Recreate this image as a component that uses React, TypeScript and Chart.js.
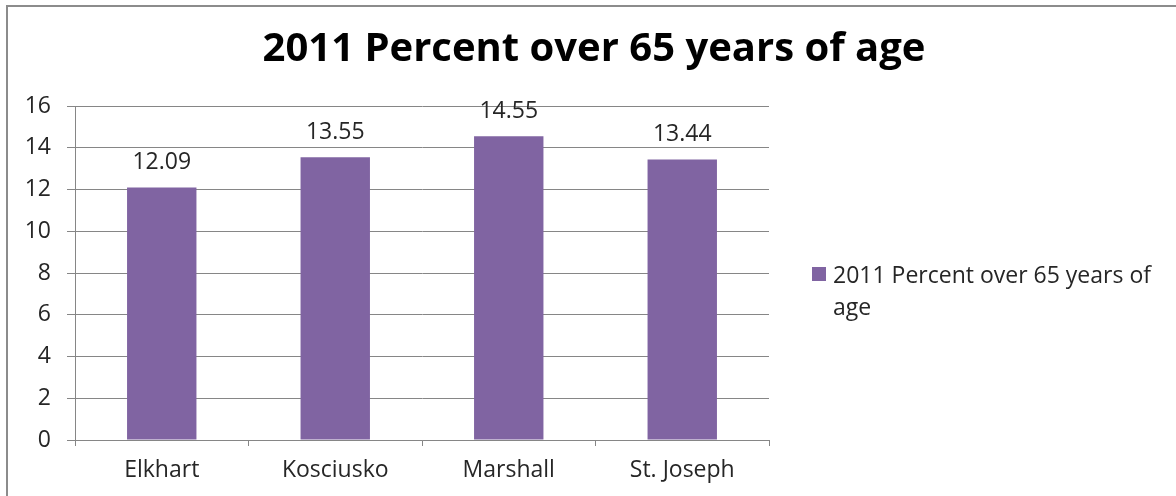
import React, { useEffect, useRef } from "react";
import { Chart, registerables } from "chart.js";

Chart.register(...registerables);

const categories = ["Elkhart", "Kosciusko", "Marshall", "St. Joseph"];
const seriesName = "2011 Percent over 65 years of age";
const values = [12.09, 13.55, 14.55, 13.44];
const valueLabels = ["12.09", "13.55", "14.55", "13.44"];
const legendLines = ["2011 Percent over 65 years of", "age"];

const FONT = "'Open Sans', Lato, sans-serif";
const BAR = "#8064A2";
const GRID = "#868686";
const TEXT = "#262626";
const FS = 23;

const valueLabelPlugin = {
  id: "valueLabels",
  afterDatasetsDraw(chart: any) {
    const ctx = chart.ctx;
    const meta = chart.getDatasetMeta(0);
    ctx.save();
    ctx.font = `${FS}px ${FONT}`;
    ctx.fillStyle = TEXT;
    ctx.textAlign = "center";
    ctx.textBaseline = "middle";
    meta.data.forEach((el: any, i: number) => {
      ctx.fillText(valueLabels[i], el.x, el.y - 25);
    });
    ctx.restore();
  },
};

const titlePlugin = {
  id: "fullTitle",
  afterDraw(chart: any) {
    const ctx = chart.ctx;
    ctx.save();
    ctx.font = `bold 40px ${FONT}`;
    ctx.fillStyle = "#000";
    ctx.textAlign = "center";
    ctx.textBaseline = "middle";
    ctx.fillText(seriesName, 594, 50);
    ctx.restore();
  },
};

export default function App() {
  const ref = useRef<HTMLCanvasElement | null>(null);
  useEffect(() => {
    document.body.style.margin = "0";
    const chart = new Chart(ref.current!, {
      type: "bar",
      data: {
        labels: categories,
        datasets: [
          {
            label: seriesName,
            data: values,
            backgroundColor: BAR,
            categoryPercentage: 0.4,
            barPercentage: 1,
          },
        ],
      },
      options: {
        animation: false,
        responsive: false,
        maintainAspectRatio: false,
        layout: { padding: { left: 0, right: 407, top: 106, bottom: 0 } },
        plugins: {
          legend: { display: false },
          tooltip: { enabled: false },
          title: { display: false },
        },
        scales: {
          x: {
            afterFit(scale: any) {
              scale.height = 56;
            },
            grid: {
              display: true,
              drawOnChartArea: false,
              drawTicks: true,
              tickLength: 6,
              color: GRID,
              offset: true,
            },
            border: { display: true, color: GRID, width: 1 },
            ticks: {
              color: TEXT,
              font: { family: FONT, size: FS },
              padding: 11,
            },
          },
          y: {
            min: 0,
            max: 16,
            afterFit(scale: any) {
              scale.width = 75;
            },
            ticks: {
              stepSize: 2,
              color: TEXT,
              font: { family: FONT, size: FS },
              padding: 16,
            },
            grid: {
              color: GRID,
              tickLength: 8,
              drawTicks: true,
            },
            border: { display: true, color: GRID, width: 1 },
          },
        },
      },
      plugins: [valueLabelPlugin, titlePlugin],
    });
    return () => chart.destroy();
  }, []);

  return (
    <div
      style={{
        position: "relative",
        width: 1176,
        height: 496,
        overflow: "hidden",
        background: "#fff",
      }}
    >
      <div
        style={{
          position: "absolute",
          left: 6,
          top: 5,
          width: 1400,
          height: 700,
          border: "2px solid #8c8c8c",
          boxSizing: "border-box",
        }}
      />
      <canvas
        ref={ref}
        width={1176}
        height={496}
        style={{ position: "absolute", left: 0, top: 0 }}
      />
      <div
        style={{
          position: "absolute",
          left: 812,
          top: 258,
          fontFamily: FONT,
          fontSize: FS,
          color: TEXT,
          lineHeight: "32px",
        }}
      >
        <div style={{ display: "flex", alignItems: "center" }}>
          <span
            style={{
              display: "inline-block",
              width: 14,
              height: 14,
              background: BAR,
              marginRight: 7,
            }}
          />
          <span>{legendLines[0]}</span>
        </div>
        <div style={{ paddingLeft: 21 }}>{legendLines[1]}</div>
      </div>
    </div>
  );
}
